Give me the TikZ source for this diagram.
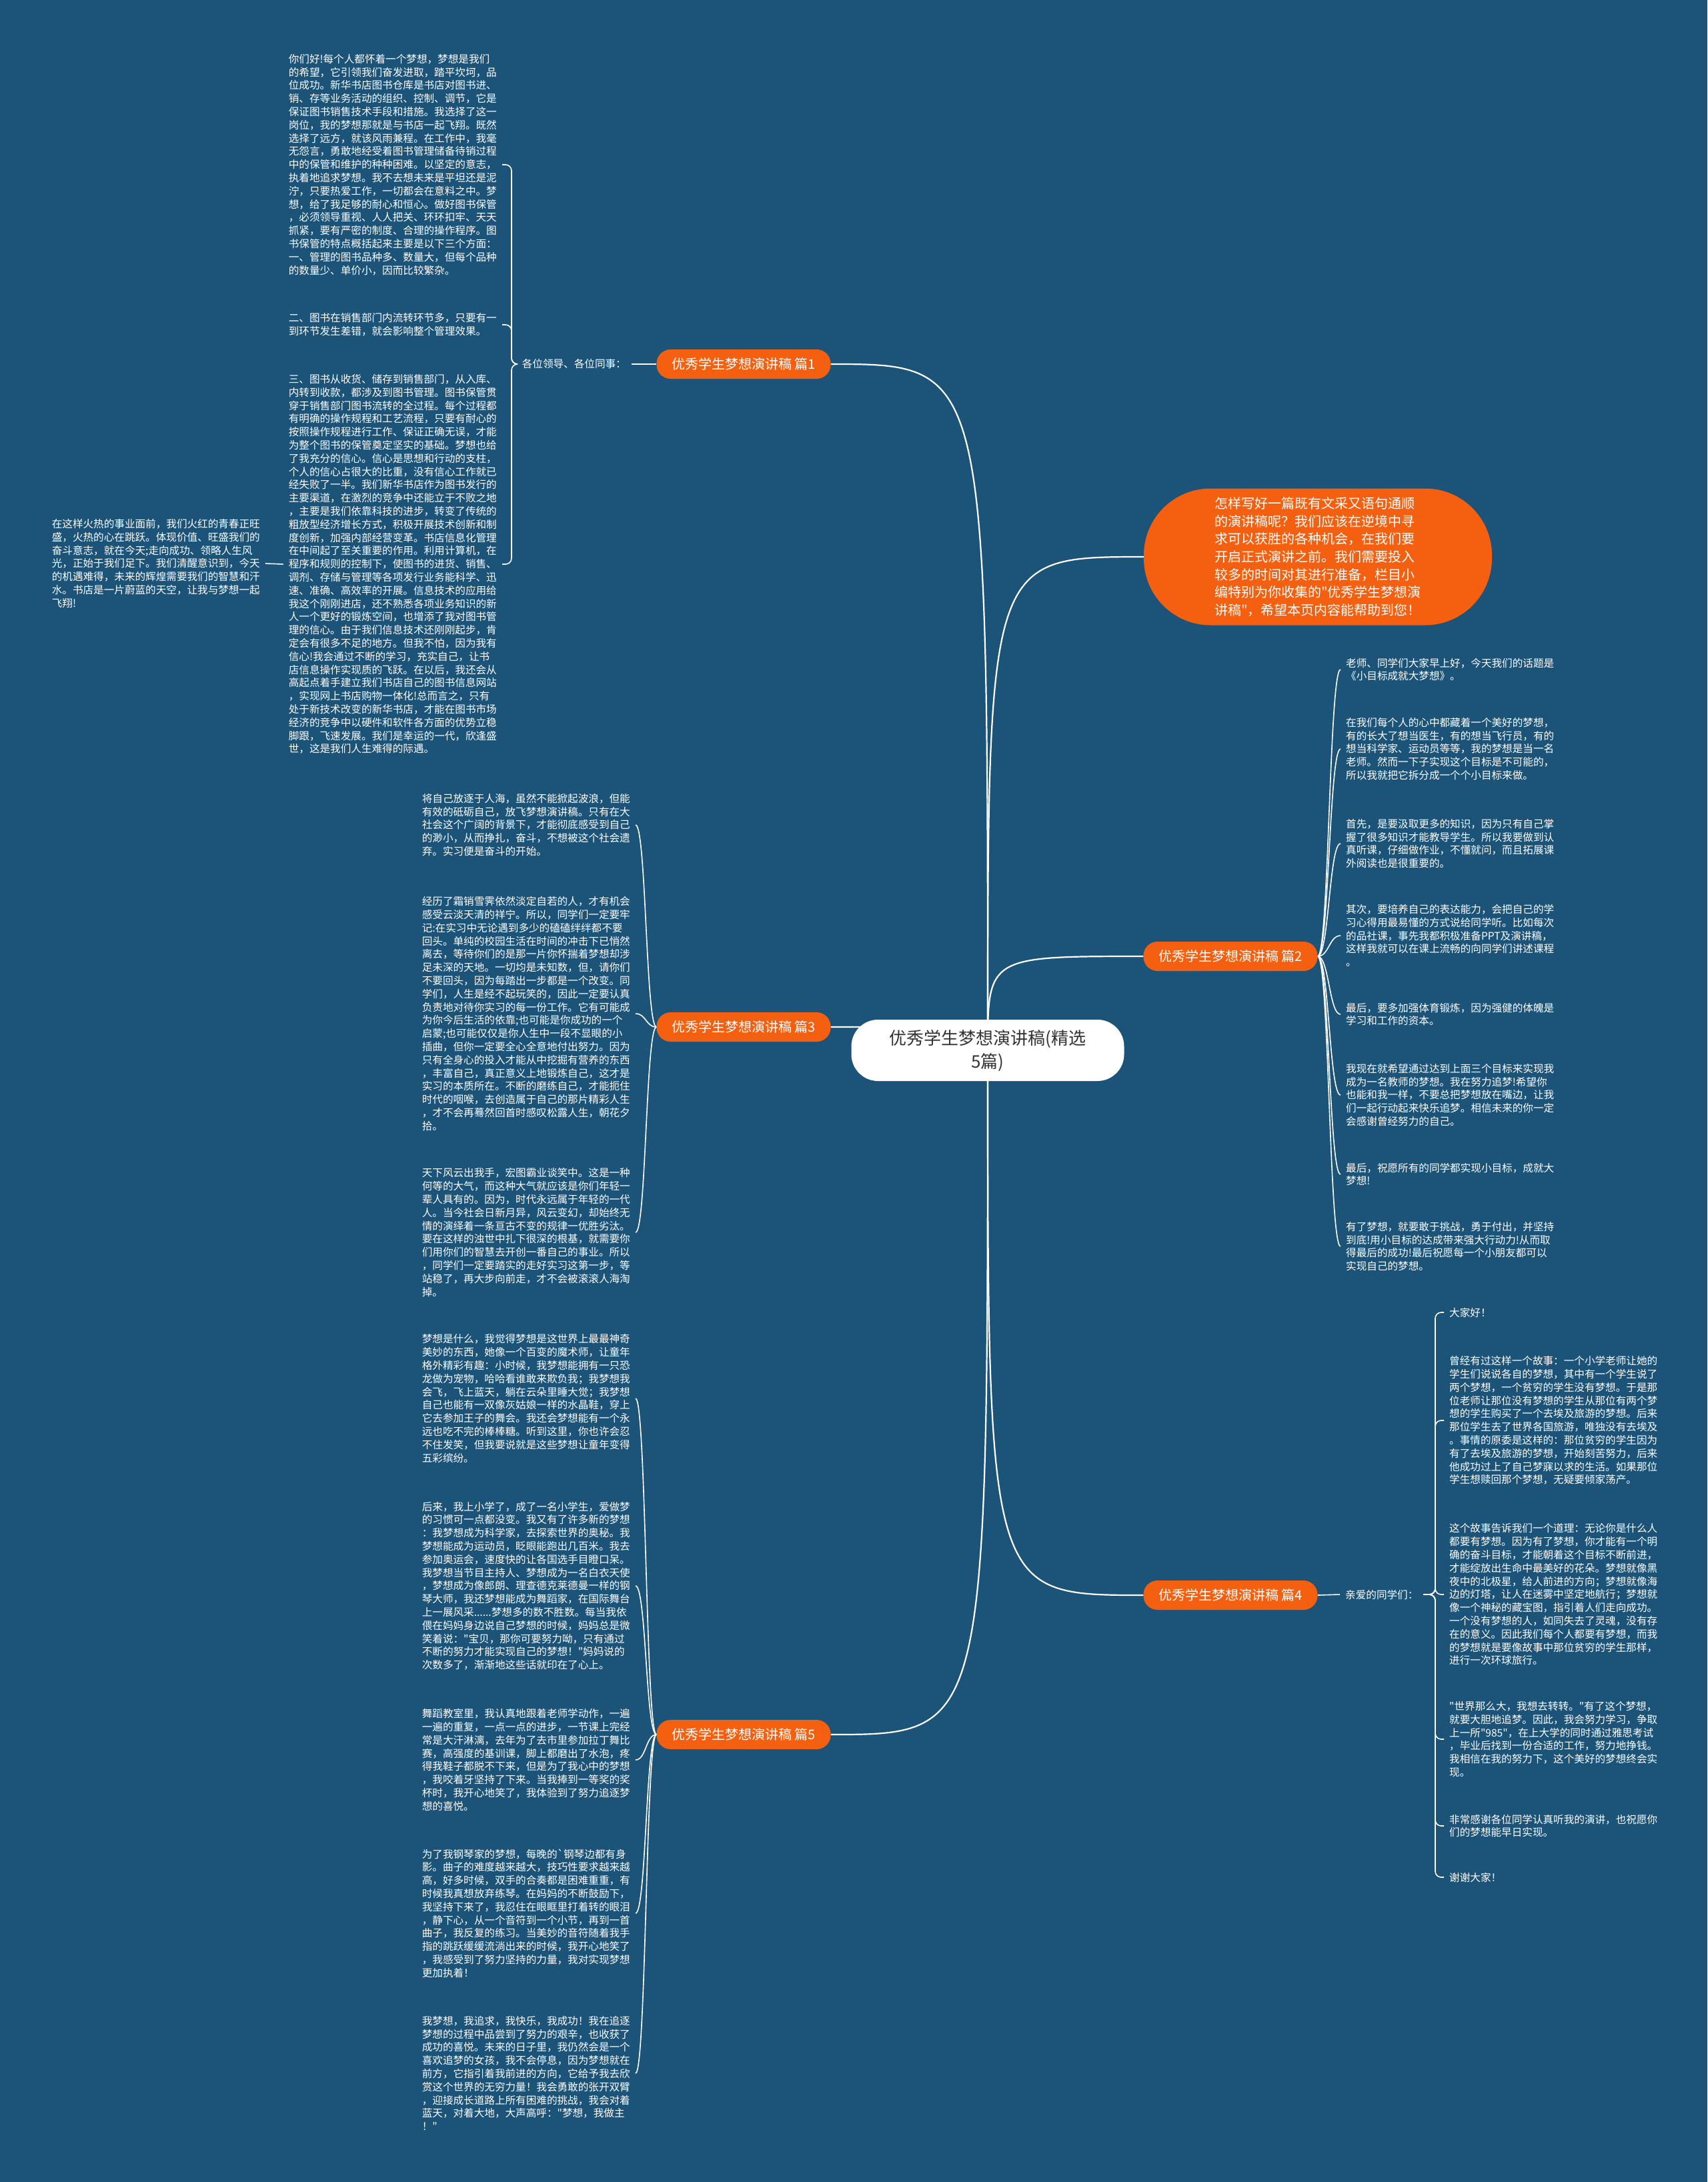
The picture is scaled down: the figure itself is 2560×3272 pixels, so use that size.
\documentclass[tikz,border=0pt]{standalone}
\usepackage{fontspec}
\newfontfamily\cjk{Noto Sans CJK SC}
\usetikzlibrary{calc}
\definecolor{bgblue}{HTML}{1B5379}
\definecolor{topicorange}{HTML}{F46010}
\definecolor{titlegray}{HTML}{333333}
\pgfdeclarelayer{bg}
\pgfdeclarelayer{links}
\pgfsetlayers{bg,links,main}
\tikzset{
  link/.style={draw=white, line width=2.2pt},
  sublink/.style={draw=white, line width=1.6pt},
  topic/.style={fill=topicorange, text=white, rounded corners=21pt, minimum width=261pt, minimum height=44pt, inner sep=0pt, font=\cjk\fontsize{20}{24}\selectfont},
  para/.style={text=white, text width=312pt, align=left, inner xsep=8pt, inner ysep=0pt, font=\cjk\fontsize{15.6}{19.8}\selectfont},
  greet/.style={text=white, inner xsep=8pt, inner ysep=0pt, font=\cjk\fontsize{15.6}{19.8}\selectfont}
}
\begin{document}
\begin{tikzpicture}[x=1pt, y=-1pt]
                \useasboundingbox (0,0) rectangle (2560,3272);
                \begin{pgfonlayer}{bg}
                    \fill[bgblue] (0,0) rectangle (2560,3272);
                \end{pgfonlayer}

                % Centre and topics
                \node[fill=white, text=titlegray, rounded corners=40pt, minimum width=409pt, minimum height=92pt, align=center, font=\cjk\fontsize{26}{35}\selectfont] (c) at (1481,1575) {优秀学生梦想演讲稿(精选\\5篇)};
                \node[fill=topicorange, text=white, rounded corners=100pt, minimum width=522pt, minimum height=205pt, text width=310pt, align=left, font=\cjk\fontsize{20}{26.7}\selectfont] (intro) at (1976,835) {怎样写好一篇既有文采又语句通顺\\的演讲稿呢？我们应该在逆境中寻\\求可以获胜的各种机会，在我们要\\开启正式演讲之前。我们需要投入\\较多的时间对其进行准备，栏目小\\编特别为你收集的"优秀学生梦想演\\讲稿"，希望本页内容能帮助到您！};
                \node[topic] (b1) at (1115,546) {优秀学生梦想演讲稿 篇1};
                \node[topic] (b2) at (1845,1434) {优秀学生梦想演讲稿 篇2};
                \node[topic] (b3) at (1115,1540) {优秀学生梦想演讲稿 篇3};
                \node[topic] (b4) at (1845,2392) {优秀学生梦想演讲稿 篇4};
                \node[topic] (b5) at (1115,2601) {优秀学生梦想演讲稿 篇5};

                % Topic 1 (Top Left)
                \node[greet, anchor=east] (l1) at (947,546) {各位领导、各位同事：};
                \node[para, anchor=east] (t11) at (753,247) {你们好!每个人都怀着一个梦想，梦想是我们\\的希望，它引领我们奋发进取，踏平坎坷，品\\位成功。新华书店图书仓库是书店对图书进、\\销、存等业务活动的组织、控制、调节，它是\\保证图书销售技术手段和措施。我选择了这一\\岗位，我的梦想那就是与书店一起飞翔。既然\\选择了远方，就该风雨兼程。在工作中，我毫\\无怨言，勇敢地经受着图书管理储备待销过程\\中的保管和维护的种种困难。以坚定的意志，\\执着地追求梦想。我不去想未来是平坦还是泥\\泞，只要热爱工作，一切都会在意料之中。梦\\想，给了我足够的耐心和恒心。做好图书保管\\，必须领导重视、人人把关、环环扣牢、天天\\抓紧，要有严密的制度、合理的操作程序。图\\书保管的特点概括起来主要是以下三个方面：\\一、管理的图书品种多、数量大，但每个品种\\的数量少、单价小，因而比较繁杂。};
                \node[para, anchor=east] (t12) at (753,487) {二、图书在销售部门内流转环节多，只要有一\\到环节发生差错，就会影响整个管理效果。};
                \node[para, anchor=east] (t13) at (753,846) {三、图书从收货、储存到销售部门，从入库、\\内转到收款，都涉及到图书管理。图书保管贯\\穿于销售部门图书流转的全过程。每个过程都\\有明确的操作规程和工艺流程，只要有耐心的\\按照操作规程进行工作、保证正确无误，才能\\为整个图书的保管奠定坚实的基础。梦想也给\\了我充分的信心。信心是思想和行动的支柱，\\个人的信心占很大的比重，没有信心工作就已\\经失败了一半。我们新华书店作为图书发行的\\主要渠道，在激烈的竞争中还能立于不败之地\\，主要是我们依靠科技的进步，转变了传统的\\粗放型经济增长方式，积极开展技术创新和制\\度创新，加强内部经营变革。书店信息化管理\\在中间起了至关重要的作用。利用计算机，在\\程序和规则的控制下，使图书的进货、销售、\\调剂、存储与管理等各项发行业务能科学、迅\\速、准确、高效率的开展。信息技术的应用给\\我这个刚刚进店，还不熟悉各项业务知识的新\\人一个更好的锻炼空间，也增添了我对图书管\\理的信心。由于我们信息技术还刚刚起步，肯\\定会有很多不足的地方。但我不怕，因为我有\\信心!我会通过不断的学习，充实自己，让书\\店信息操作实现质的飞跃。在以后，我还会从\\高起点着手建立我们书店自己的图书信息网站\\，实现网上书店购物一体化!总而言之，只有\\处于新技术改变的新华书店，才能在图书市场\\经济的竞争中以硬件和软件各方面的优势立稳\\脚跟，飞速发展。我们是幸运的一代，欣逢盛\\世，这是我们人生难得的际遇。};
                \node[para, anchor=east] (t14) at (398,845) {在这样火热的事业面前，我们火红的青春正旺\\盛，火热的心在跳跃。体现价值、旺盛我们的\\奋斗意志，就在今天;走向成功、领略人生风\\光，正始于我们足下。我们清醒意识到，今天\\的机遇难得，未来的辉煌需要我们的智慧和汗\\水。书店是一片蔚蓝的天空，让我与梦想一起\\飞翔!};

                % Topic 3 (Middle Left)
                \node[para, anchor=east] (t31) at (953,1237) {将自己放逐于人海，虽然不能掀起波浪，但能\\有效的砥砺自己，放飞梦想演讲稿。只有在大\\社会这个广阔的背景下，才能彻底感受到自己\\的渺小，从而挣扎，奋斗，不想被这个社会遗\\弃。实习便是奋斗的开始。};
                \node[para, anchor=east] (t32) at (953,1520) {经历了霜销雪霁依然淡定自若的人，才有机会\\感受云淡天清的祥宁。所以，同学们一定要牢\\记:在实习中无论遇到多少的磕磕绊绊都不要\\回头。单纯的校园生活在时间的冲击下已悄然\\离去，等待你们的是那一片你怀揣着梦想却涉\\足未深的天地。一切均是未知数，但，请你们\\不要回头，因为每踏出一步都是一个改变。同\\学们，人生是经不起玩笑的，因此一定要认真\\负责地对待你实习的每一份工作。它有可能成\\为你今后生活的依靠;也可能是你成功的一个\\启蒙;也可能仅仅是你人生中一段不显眼的小\\插曲，但你一定要全心全意地付出努力。因为\\只有全身心的投入才能从中挖掘有营养的东西\\，丰富自己，真正意义上地锻炼自己，这才是\\实习的本质所在。不断的磨练自己，才能扼住\\时代的咽喉，去创造属于自己的那片精彩人生\\，才不会再蓦然回首时感叹松露人生，朝花夕\\拾。};
                \node[para, anchor=east] (t33) at (953,1848) {天下风云出我手，宏图霸业谈笑中。这是一种\\何等的大气，而这种大气就应该是你们年轻一\\辈人具有的。因为，时代永远属于年轻的一代\\人。当今社会日新月异，风云变幻，却始终无\\情的演绎着一条亘古不变的规律一优胜劣汰。\\要在这样的浊世中扎下很深的根基，就需要你\\们用你们的智慧去开创一番自己的事业。所以\\，同学们一定要踏实的走好实习这第一步，等\\站稳了，再大步向前走，才不会被滚滚人海淘\\掉。};

                % Topic 5 (Bottom Left)
                \node[para, anchor=east] (t51) at (953,2097) {梦想是什么，我觉得梦想是这世界上最最神奇\\美妙的东西，她像一个百变的魔术师，让童年\\格外精彩有趣：小时候，我梦想能拥有一只恐\\龙做为宠物，哈哈看谁敢来欺负我；我梦想我\\会飞，飞上蓝天，躺在云朵里睡大觉；我梦想\\自己也能有一双像灰姑娘一样的水晶鞋，穿上\\它去参加王子的舞会。我还会梦想能有一个永\\远也吃不完的棒棒糖。听到这里，你也许会忍\\不住发笑，但我要说就是这些梦想让童年变得\\五彩缤纷。};
                \node[para, anchor=east] (t52) at (953,2378) {后来，我上小学了，成了一名小学生，爱做梦\\的习惯可一点都没变。我又有了许多新的梦想\\：我梦想成为科学家，去探索世界的奥秘。我\\梦想能成为运动员，眨眼能跑出几百米。我去\\参加奥运会，速度快的让各国选手目瞪口呆。\\我梦想当节目主持人、梦想成为一名白衣天使\\，梦想成为像郎朗、理查德克莱德曼一样的钢\\琴大师，我还梦想能成为舞蹈家，在国际舞台\\上一展风采......梦想多的数不胜数。每当我依\\偎在妈妈身边说自己梦想的时候，妈妈总是微\\笑着说："宝贝，那你可要努力呦，只有通过\\不断的努力才能实现自己的梦想！"妈妈说的\\次数多了，渐渐地这些话就印在了心上。};
                \node[para, anchor=east] (t53) at (953,2639) {舞蹈教室里，我认真地跟着老师学动作，一遍\\一遍的重复，一点一点的进步，一节课上完经\\常是大汗淋漓，去年为了去市里参加拉丁舞比\\赛，高强度的基训课，脚上都磨出了水泡，疼\\得我鞋子都脱不下来，但是为了我心中的梦想\\，我咬着牙坚持了下来。当我捧到一等奖的奖\\杯时，我开心地笑了，我体验到了努力追逐梦\\想的喜悦。};
                \node[para, anchor=east] (t54) at (953,2869) {为了我钢琴家的梦想，每晚的\char96 钢琴边都有身\\影。曲子的难度越来越大，技巧性要求越来越\\高，好多时候，双手的合奏都是困难重重，有\\时候我真想放弃练琴。在妈妈的不断鼓励下，\\我坚持下来了，我忍住在眼眶里打着转的眼泪\\，静下心，从一个音符到一个小节，再到一首\\曲子，我反复的练习。当美妙的音符随着我手\\指的跳跃缓缓流淌出来的时候，我开心地笑了\\，我感受到了努力坚持的力量，我对实现梦想\\更加执着！};
                \node[para, anchor=east] (t55) at (953,3109) {我梦想，我追求，我快乐，我成功！我在追逐\\梦想的过程中品尝到了努力的艰辛，也收获了\\成功的喜悦。未来的日子里，我仍然会是一个\\喜欢追梦的女孩，我不会停息，因为梦想就在\\前方，它指引着我前进的方向，它给予我去欣\\赏这个世界的无穷力量！我会勇敢的张开双臂\\，迎接成长道路上所有困难的挑战，我会对着\\蓝天，对着大地，大声高呼："梦想，我做主\\！"};

                % Topic 2 (Middle Right)
                \node[para, anchor=west] (t21) at (2010,1004) {老师、同学们大家早上好，今天我们的话题是\\《小目标成就大梦想》。};
                \node[para, anchor=west] (t22) at (2010,1123) {在我们每个人的心中都藏着一个美好的梦想，\\有的长大了想当医生，有的想当飞行员，有的\\想当科学家、运动员等等，我的梦想是当一名\\老师。然而一下子实现这个目标是不可能的，\\所以我就把它拆分成一个个小目标来做。};
                \node[para, anchor=west] (t23) at (2010,1265) {首先，是要汲取更多的知识，因为只有自己掌\\握了很多知识才能教导学生。所以我要做到认\\真听课，仔细做作业，不懂就问，而且拓展课\\外阅读也是很重要的。};
                \node[para, anchor=west] (t24) at (2010,1403) {其次，要培养自己的表达能力，会把自己的学\\习心得用最易懂的方式说给同学听。比如每次\\的品社课，事先我都积极准备PPT及演讲稿，\\这样我就可以在课上流畅的向同学们讲述课程\\。};
                \node[para, anchor=west] (t25) at (2010,1521) {最后，要多加强体育锻炼，因为强健的体魄是\\学习和工作的资本。};
                \node[para, anchor=west] (t26) at (2010,1642) {我现在就希望通过达到上面三个目标来实现我\\成为一名教师的梦想。我在努力追梦!希望你\\也能和我一样，不要总把梦想放在嘴边，让我\\们一起行动起来快乐追梦。相信未来的你一定\\会感谢曾经努力的自己。};
                \node[para, anchor=west] (t27) at (2010,1761) {最后，祝愿所有的同学都实现小目标，成就大\\梦想!};
                \node[para, anchor=west] (t28) at (2010,1869) {有了梦想，就要敢于挑战，勇于付出，并坚持\\到底!用小目标的达成带来强大行动力!从而取\\得最后的成功!最后祝愿每一个小朋友都可以\\实现自己的梦想。};

                % Topic 4 (Bottom Right)
                \node[greet, anchor=west] (l4) at (2009,2391) {亲爱的同学们：};
                \node[para, anchor=west] (t41) at (2165,1968) {大家好！};
                \node[para, anchor=west] (t42) at (2165,2130) {曾经有过这样一个故事：一个小学老师让她的\\学生们说说各自的梦想，其中有一个学生说了\\两个梦想，一个贫穷的学生没有梦想。于是那\\位老师让那位没有梦想的学生从那位有两个梦\\想的学生购买了一个去埃及旅游的梦想。后来\\那位学生去了世界各国旅游，唯独没有去埃及\\。事情的原委是这样的：那位贫穷的学生因为\\有了去埃及旅游的梦想，开始刻苦努力，后来\\他成功过上了自己梦寐以求的生活。如果那位\\学生想赎回那个梦想，无疑要倾家荡产。};
                \node[para, anchor=west] (t43) at (2165,2391) {这个故事告诉我们一个道理：无论你是什么人\\都要有梦想。因为有了梦想，你才能有一个明\\确的奋斗目标，才能朝着这个目标不断前进，\\才能绽放出生命中最美好的花朵。梦想就像黑\\夜中的北极星，给人前进的方向；梦想就像海\\边的灯塔，让人在迷雾中坚定地航行；梦想就\\像一个神秘的藏宝图，指引着人们走向成功。\\一个没有梦想的人，如同失去了灵魂，没有存\\在的意义。因此我们每个人都要有梦想，而我\\的梦想就是要像故事中那位贫穷的学生那样，\\进行一次环球旅行。};
                \node[para, anchor=west] (t44) at (2165,2608) {"世界那么大，我想去转转。"有了这个梦想，\\就要大胆地追梦。因此，我会努力学习，争取\\上一所"985"，在上大学的同时通过雅思考试\\，毕业后找到一份合适的工作，努力地挣钱。\\我相信在我的努力下，这个美好的梦想终会实\\现。};
                \node[para, anchor=west] (t45) at (2165,2738) {非常感谢各位同学认真听我的演讲，也祝愿你\\们的梦想能早日实现。};
                \node[para, anchor=west] (t46) at (2165,2815) {谢谢大家！};

                \begin{pgfonlayer}{links}
                    % centre to topics
                    \foreach \b in {b1,b3,b5}
                        \draw[link] (c.center) .. controls (c.center |- \b.east) .. (\b.east);
                    \foreach \b in {intro,b2,b4}
                        \draw[link] (c.center) .. controls (c.center |- \b.west) .. (\b.west);
                    % topic 1
                    \draw[sublink] (l1.east) -- (b1.west);
                    \coordinate (s1) at (767,546);
                    \foreach \t in {t11,t12,t13}
                        \draw[sublink, rounded corners=9pt] (l1.west) -- (s1) |- (\t.east);
                    \draw[sublink] (t14.east) -- (t13.west);
                    % topics 3 and 5
                    \foreach \t in {t31,t32,t33}
                        \draw[sublink] (b3.west) .. controls +(-16,0) and +(16,0) .. (\t.east);
                    \foreach \t in {t51,t52,t53,t54,t55}
                        \draw[sublink] (b5.west) .. controls +(-16,0) and +(16,0) .. (\t.east);
                    % topic 2
                    \foreach \t in {t21,t22,t23,t24,t25,t26,t27,t28}
                        \draw[sublink] (b2.east) .. controls +(17,0) and +(-17,0) .. (\t.west);
                    % topic 4
                    \draw[sublink] (b4.east) -- (l4.west);
                    \coordinate (s4) at (2152,2391);
                    \foreach \t in {t41,t42,t43,t44,t45,t46}
                        \draw[sublink, rounded corners=9pt] (l4.east) -- (s4) |- (\t.west);
                \end{pgfonlayer}
            \end{tikzpicture}
\end{document}
